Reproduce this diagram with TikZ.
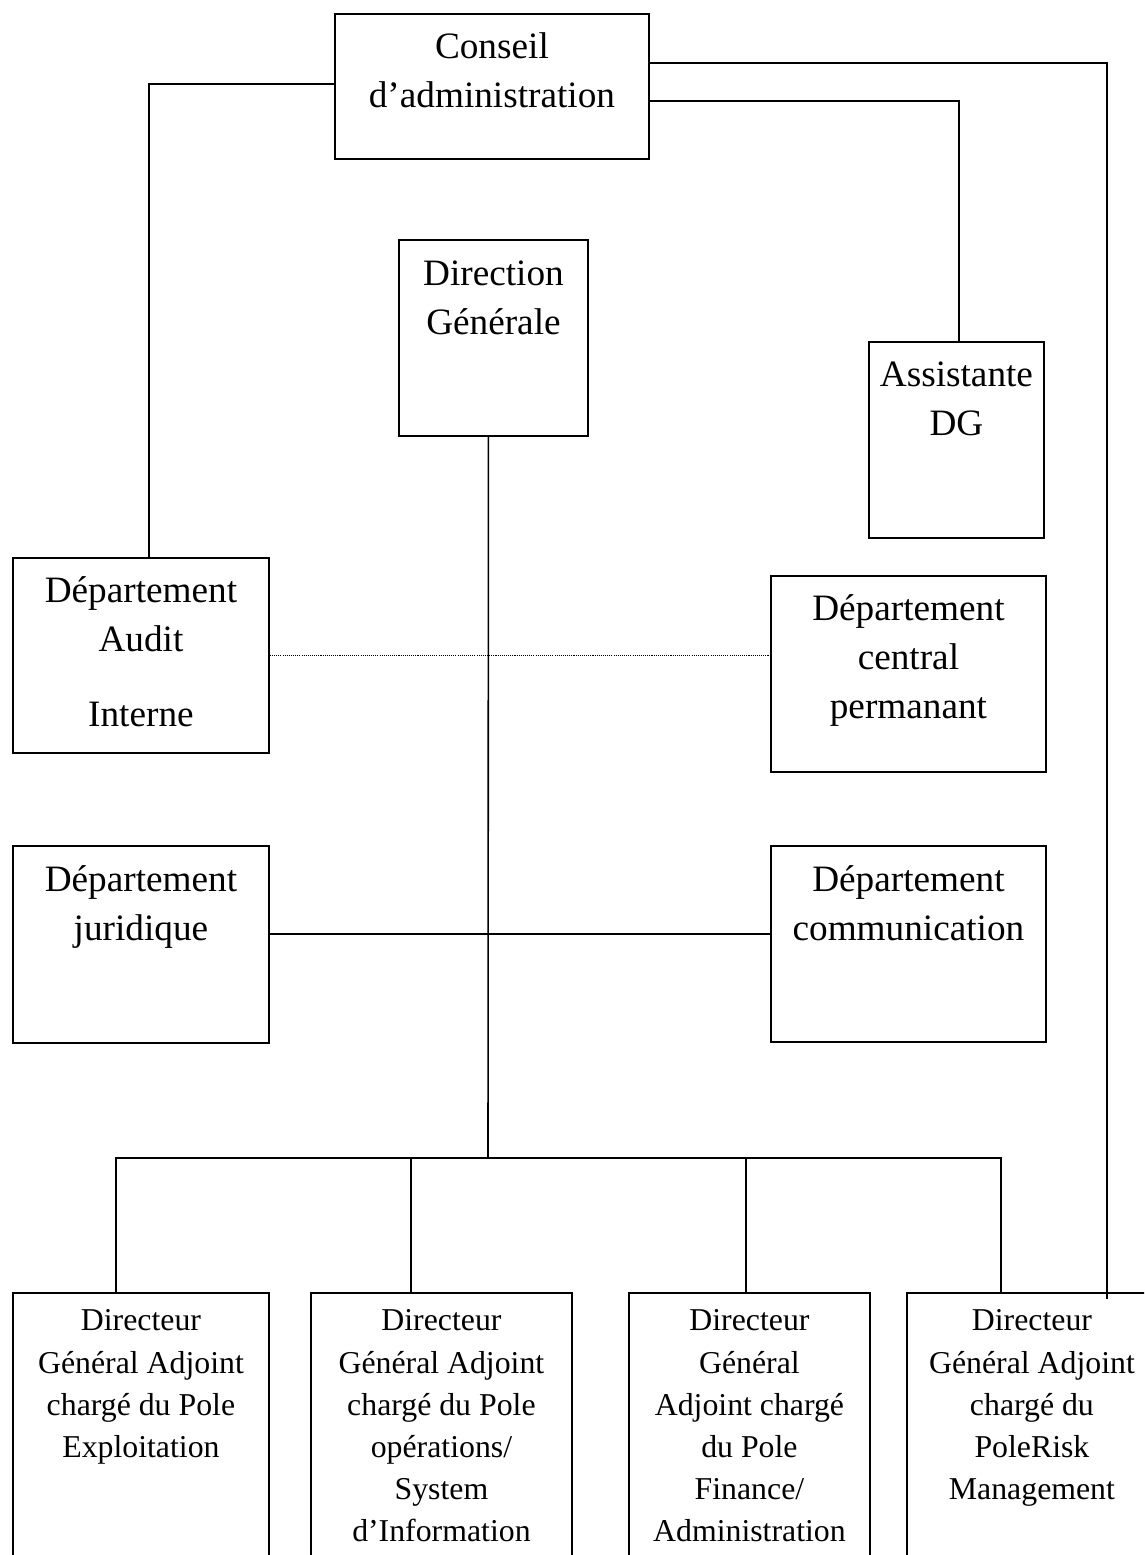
\documentclass[tikz,border=0pt]{standalone}
\usepackage{fontspec}
\setmainfont{Liberation Serif}

\newcommand{\bigtxt}{\fontsize{21.2pt}{27.8pt}\selectfont}
\newcommand{\smalltxt}{\fontsize{18.1pt}{24.0pt}\selectfont}
% width, height, first baseline, text
\newcommand{\inbox}[4]{\parbox[t][#2][t]{#1}{\centering\rule{0pt}{#3}#4}}

\begin{document}
\begin{tikzpicture}[x=0.02cm, y=-0.02cm,
    box/.style={draw, line width=1.1pt, inner sep=0pt, anchor=north west, font=\bigtxt},
    lowbox/.style={box, font=\smalltxt},
    link/.style={line width=0.9pt},
    dots/.style={line width=0.9pt, dash pattern=on 0.6pt off 0.6pt}]
    \useasboundingbox (0,0) rectangle (1144,1555);
    \clip (0,0) rectangle (1144,1555);

    % Top boxes
    \node[box] (cons) at (334,13) {\inbox{6.28cm}{2.9cm}{0.9cm}{Conseil\\d’administration}};
    \node[box] (dg) at (398,239) {\inbox{3.78cm}{3.92cm}{0.92cm}{Direction\\Générale}};
    \node[box] (asst) at (868,341) {\inbox{3.5cm}{3.92cm}{0.9cm}{Assistante\\DG}};

    % Departments
    \node[box] (audit) at (12,557) {\inbox{5.12cm}{3.9cm}{0.9cm}{Département\\Audit\\[0.52cm]Interne}};
    \node[box] (centr) at (770,575) {\inbox{5.5cm}{3.92cm}{0.9cm}{Département\\central\\permanant}};
    \node[box] (jur) at (12,845) {\inbox{5.12cm}{3.94cm}{0.92cm}{Département\\juridique}};
    \node[box] (comm) at (770,845) {\inbox{5.5cm}{3.92cm}{0.92cm}{Département\\communication}};

    % Bottom boxes (cut by the page)
    \node[lowbox] (b1) at (12,1292) {\inbox{5.12cm}{6cm}{0.76cm}{Directeur\\Général Adjoint\\chargé du Pole\\Exploitation}};
    \node[lowbox] (b2) at (310,1292) {\inbox{5.22cm}{6cm}{0.76cm}{Directeur\\Général Adjoint\\chargé du Pole\\opérations/\\System\\d’Information}};
    \node[lowbox] (b3) at (628,1292) {\inbox{4.82cm}{6cm}{0.76cm}{Directeur\\Général\\Adjoint chargé\\du Pole\\Finance/\\Administration}};
    \node[lowbox] (b4) at (906,1292) {\inbox{5cm}{6cm}{0.76cm}{Directeur\\Général Adjoint\\chargé du\\PoleRisk\\Management}};

    \coordinate (hub) at (488,1158);
    \coordinate (riskend) at (1107,1299);

    % Connectors
    \draw[link] ([yshift=0.05cm]cons.west) -| ([xshift=0.16cm]audit.north);
    \draw[link] ([yshift=-0.29cm]cons.east) -| ([xshift=0.05cm]asst.north);
    \draw[link] ([yshift=0.47cm]cons.east) -| (riskend);
    \draw[link] ([xshift=-0.1cm]dg.south) -- (hub);
    \draw[dots] (audit.east) -- (audit.east -| centr.west);
    \draw[link] ([yshift=0.21cm]jur.east) -- ([yshift=0.21cm]jur.east -| comm.west);
    \draw[link] ([xshift=-0.5cm]b1.north) |- (hub) -| ([xshift=-0.62cm]b4.north);
    \draw[link] ([xshift=-0.61cm]b2.north) -- ([xshift=-0.61cm]b2.north |- hub);
    \draw[link] ([xshift=-0.07cm]b3.north) -- ([xshift=-0.07cm]b3.north |- hub);
\end{tikzpicture}
\end{document}
